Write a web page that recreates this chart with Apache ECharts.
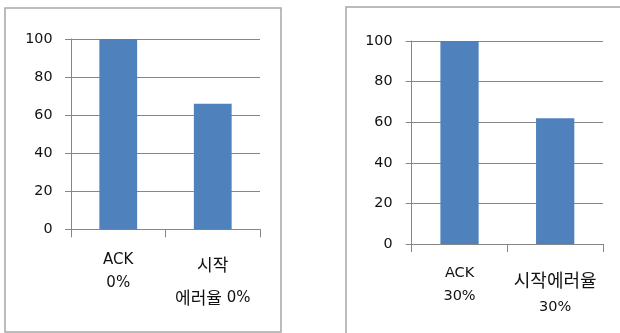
<!DOCTYPE html>
<html><head><meta charset="utf-8">
<script src="https://cdn.jsdelivr.net/npm/echarts@6/dist/echarts.min.js"></script>
<style>html,body{margin:0;padding:0;background:#fff}#c{width:620px;height:333px}</style>
</head><body><div id="c"></div>
<script>
// Data
const categoriesLeft = ['ACK\n0%', '시작\n에러율 0%'];
const valuesLeft = [100, 66];
const categoriesRight = ['ACK\n30%', '시작에러율\n30%'];
const valuesRight = [100, 62];
const yTicks = [0, 20, 40, 60, 80, 100];

const LAT = 'DejaVu Sans';
const KR = 'Noto Sans CJK KR';
const axisGray = '#868686';
const barColor = '#4f81bd';

function isKo(s){ return /[\uac00-\ud7a3]/.test(s); }
function styleLine(line, tag){
  const parts = line.match(/[\uac00-\ud7a3]+|[^\uac00-\ud7a3]+/g) || [];
  return parts.map(p => '{' + (isKo(p) ? 'k' : 'l') + tag + '|' + p + '}').join('');
}
function fmtLeft(v, i){
  const lines = v.split('\n');
  const tag = i === 0 ? 'A' : 'B';
  return lines.map(l => styleLine(l, tag)).join('\n');
}
function fmtRight(v, i){
  const lines = v.split('\n');
  if (i === 0) return lines.map(l => styleLine(l, 'A')).join('\n');
  return styleLine(lines[0], 'C') + '\n' + styleLine(lines[1], 'D');
}

const TC = '#111';
const richLeft = {
  lA: {fontFamily: LAT, fontSize: 15, lineHeight: 23, color: TC},
  kA: {fontFamily: KR, fontSize: 17, lineHeight: 23, color: TC},
  lB: {fontFamily: LAT, fontSize: 15, lineHeight: 33, color: TC},
  kB: {fontFamily: KR, fontSize: 17, lineHeight: 33, color: TC}
};
const richRight = {
  lA: {fontFamily: LAT, fontSize: 14.5, lineHeight: 23.4, color: TC},
  kA: {fontFamily: KR, fontSize: 18, lineHeight: 23.4, color: TC},
  lC: {fontFamily: LAT, fontSize: 14.5, lineHeight: 37, color: TC},
  kC: {fontFamily: KR, fontSize: 18, lineHeight: 37, color: TC},
  lD: {fontFamily: LAT, fontSize: 14.5, lineHeight: 16.6, color: TC},
  kD: {fontFamily: KR, fontSize: 18, lineHeight: 16.6, color: TC}
};

function xAx(gi, cats, fmt, rich, margin){
  return {
    type: 'category', gridIndex: gi, data: cats,
    axisLine: {show: true, lineStyle: {color: axisGray, width: 1}},
    axisTick: {show: true, length: 8, lineStyle: {color: axisGray}},
    axisLabel: {interval: 0, hideOverlap: false, margin: margin, formatter: fmt, rich: rich, color: TC}
  };
}
function yAx(gi, margin){
  return {
    type: 'value', gridIndex: gi, min: yTicks[0], max: yTicks[yTicks.length-1], interval: yTicks[1]-yTicks[0],
    axisLine: {show: true, lineStyle: {color: axisGray, width: 1}},
    axisTick: {show: true, length: 6, lineStyle: {color: axisGray}},
    splitLine: {show: true, lineStyle: {color: axisGray, width: 1}},
    axisLabel: {margin: margin, fontFamily: LAT, fontSize: 14.3, color: TC}
  };
}

const chart = echarts.init(document.getElementById('c'), null, {renderer: 'canvas'});
chart.setOption({
  animation: false,
  backgroundColor: '#fff',
  graphic: [
    {type: 'rect', shape: {x: 5, y: 8, width: 276, height: 324}, style: {fill: 'none', stroke: '#a6a6a6', lineWidth: 1.5}, z: -1},
    {type: 'rect', shape: {x: 346, y: 7, width: 300, height: 340}, style: {fill: 'none', stroke: '#a6a6a6', lineWidth: 1.5}, z: -1}
  ],
  grid: [
    {left: 71, top: 39, width: 189, height: 190.3},
    {left: 411.7, top: 41, width: 191.3, height: 203}
  ],
  xAxis: [
    xAx(0, categoriesLeft, fmtLeft, richLeft, 19.2),
    xAx(1, categoriesRight, fmtRight, richRight, 17.6)
  ],
  yAxis: [yAx(0, 18.5), yAx(1, 19.2)],
  series: [
    {type: 'bar', xAxisIndex: 0, yAxisIndex: 0, data: valuesLeft, barWidth: '40%', itemStyle: {color: barColor}},
    {type: 'bar', xAxisIndex: 1, yAxisIndex: 1, data: valuesRight, barWidth: '40%', itemStyle: {color: barColor}}
  ]
});
</script></body></html>
